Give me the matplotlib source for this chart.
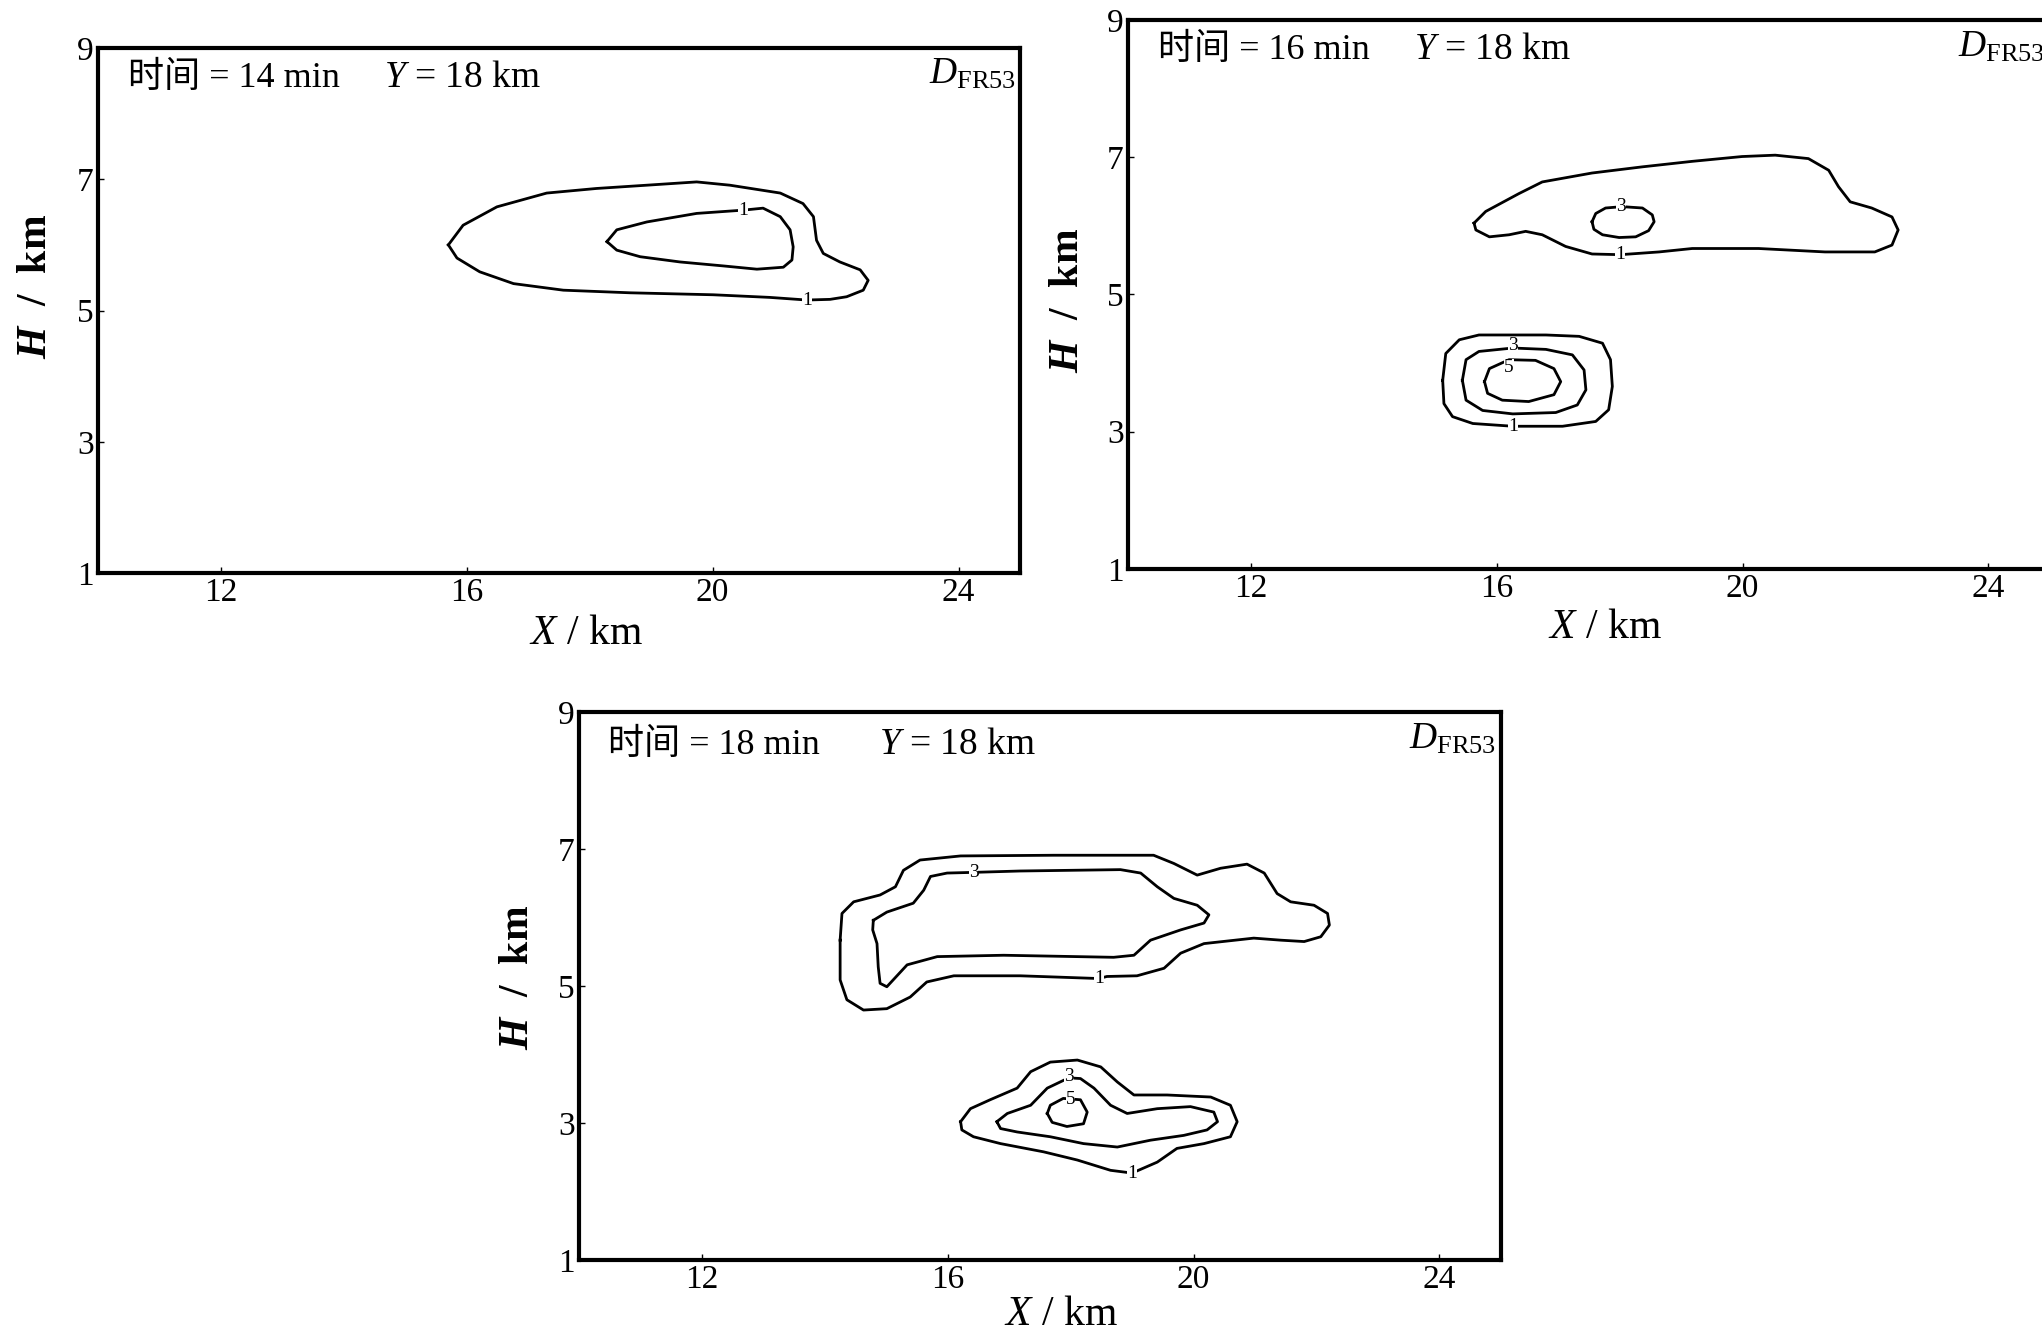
import matplotlib
matplotlib.use("Agg")
import matplotlib.pyplot as plt

plt.rcParams['font.family'] = ['Liberation Serif', 'Noto Sans CJK SC', 'DejaVu Sans']
plt.rcParams['mathtext.fontset'] = 'custom'
plt.rcParams['mathtext.rm'] = 'Liberation Serif'
plt.rcParams['mathtext.it'] = 'Liberation Serif:italic'
plt.rcParams['mathtext.bf'] = 'Liberation Serif:bold'
plt.rcParams['mathtext.bfit'] = 'Liberation Serif:italic:bold'

# --- data (X km, H km) ---
x_ticks = [12, 16, 20, 24]
h_ticks = [1, 3, 5, 7, 9]
minutes = [14, 16, 18]

# 14 min
t14_c1_x = [15.70, 15.94, 16.49, 17.30, 18.11, 18.93, 19.74, 20.28, 21.10, 21.47, 21.64, 21.69,
            21.80, 22.07, 22.40, 22.53, 22.45, 22.18, 21.91, 21.53, 20.93, 20.01, 18.66, 17.57,
            16.76, 16.21, 15.84, 15.70]
t14_c1_h = [6.00, 6.30, 6.58, 6.79, 6.86, 6.91, 6.96, 6.91, 6.79, 6.63, 6.43, 6.07,
            5.87, 5.74, 5.62, 5.46, 5.31, 5.21, 5.17, 5.16, 5.20, 5.24, 5.27, 5.31,
            5.41, 5.59, 5.80, 6.00]
t14_c3_x = [18.28, 18.44, 18.93, 19.74, 20.50, 20.82, 21.10, 21.26, 21.31, 21.29, 21.15, 20.72,
            20.17, 19.47, 18.82, 18.44, 18.28]
t14_c3_h = [6.05, 6.23, 6.35, 6.48, 6.53, 6.56, 6.43, 6.23, 5.97, 5.77, 5.66, 5.63,
            5.68, 5.74, 5.82, 5.92, 6.05]

# 16 min
t16_a1_x = [15.63, 15.82, 16.36, 16.74, 17.55, 18.37, 19.18, 19.99, 20.53, 21.07, 21.40, 21.56,
            21.75, 22.10, 22.43, 22.53, 22.43, 22.15, 21.34, 20.26, 19.18, 18.64, 18.01, 17.55,
            17.12, 16.74, 16.47, 16.20, 15.88, 15.66, 15.63]
t16_a1_h = [6.04, 6.21, 6.47, 6.64, 6.77, 6.86, 6.94, 7.01, 7.03, 6.98, 6.81, 6.57,
            6.35, 6.26, 6.13, 5.94, 5.72, 5.62, 5.62, 5.67, 5.67, 5.62, 5.58, 5.59,
            5.70, 5.87, 5.92, 5.87, 5.84, 5.94, 6.04]
t16_a3_x = [17.55, 17.61, 17.77, 18.04, 18.37, 18.53, 18.56, 18.47, 18.26, 17.99, 17.72, 17.58, 17.55]
t16_a3_h = [6.06, 6.18, 6.26, 6.28, 6.26, 6.16, 6.06, 5.93, 5.84, 5.83, 5.87, 5.95, 6.06]
t16_b1_x = [15.12, 15.17, 15.39, 15.71, 16.26, 16.80, 17.34, 17.72, 17.85, 17.88, 17.82, 17.61,
            17.07, 16.26, 15.61, 15.28, 15.14, 15.12]
t16_b1_h = [3.75, 4.14, 4.34, 4.41, 4.41, 4.41, 4.39, 4.29, 4.05, 3.66, 3.32, 3.15,
            3.08, 3.08, 3.12, 3.22, 3.41, 3.75]
t16_b3_x = [15.44, 15.50, 15.71, 16.26, 16.80, 17.23, 17.42, 17.45, 17.31, 16.96, 16.26, 15.77,
            15.50, 15.44]
t16_b3_h = [3.75, 4.05, 4.17, 4.22, 4.20, 4.12, 3.90, 3.61, 3.39, 3.28, 3.26, 3.31,
            3.46, 3.75]
t16_b5_x = [15.80, 15.88, 16.20, 16.63, 16.93, 17.04, 16.93, 16.52, 16.09, 15.85, 15.80]
t16_b5_h = [3.73, 3.92, 4.05, 4.04, 3.92, 3.73, 3.54, 3.44, 3.46, 3.56, 3.73]

# 18 min
t18_a1_x = [14.25, 14.28, 14.47, 14.90, 15.15, 15.28, 15.55, 16.21, 17.73, 19.35, 19.68, 20.06,
            20.44, 20.87, 21.15, 21.36, 21.58, 21.96, 22.18, 22.21, 22.07, 21.80, 21.42, 20.98,
            20.17, 19.79, 19.52, 19.08, 18.59, 18.46, 17.18, 16.10, 15.66, 15.39, 15.01, 14.63,
            14.36, 14.25, 14.25]
t18_a1_h = [5.67, 6.06, 6.23, 6.33, 6.45, 6.69, 6.84, 6.90, 6.91, 6.91, 6.79, 6.62,
            6.72, 6.78, 6.65, 6.35, 6.23, 6.18, 6.06, 5.89, 5.72, 5.65, 5.67, 5.70,
            5.62, 5.48, 5.26, 5.15, 5.14, 5.11, 5.15, 5.15, 5.06, 4.84, 4.67, 4.65,
            4.80, 5.09, 5.67]
t18_a3_x = [14.79, 15.01, 15.44, 15.61, 15.72, 15.99, 16.42, 17.18, 18.81, 19.14, 19.41, 19.68,
            20.06, 20.25, 20.17, 19.79, 19.30, 19.03, 18.70, 16.91, 15.83, 15.34, 15.01, 14.90,
            14.87, 14.85, 14.78, 14.79]
t18_a3_h = [5.96, 6.08, 6.21, 6.40, 6.60, 6.65, 6.66, 6.68, 6.70, 6.65, 6.45, 6.28,
            6.18, 6.04, 5.92, 5.82, 5.67, 5.45, 5.42, 5.45, 5.43, 5.31, 4.99, 5.04,
            5.28, 5.62, 5.82, 5.96]
t18_b1_x = [16.21, 16.37, 16.69, 17.13, 17.35, 17.67, 18.11, 18.49, 18.76, 19.03, 19.57, 20.28,
            20.60, 20.71, 20.60, 20.17, 19.73, 19.41, 19.00, 18.65, 18.11, 17.56, 16.86, 16.42,
            16.23, 16.21]
t18_b1_h = [3.02, 3.21, 3.34, 3.51, 3.75, 3.89, 3.92, 3.82, 3.60, 3.41, 3.41, 3.38,
            3.26, 3.02, 2.80, 2.70, 2.63, 2.43, 2.27, 2.31, 2.46, 2.58, 2.70, 2.80,
            2.90, 3.02]
t18_b3_x = [16.80, 16.97, 17.35, 17.62, 17.97, 18.16, 18.38, 18.65, 18.92, 19.41, 19.95, 20.33,
            20.39, 20.22, 19.84, 19.30, 18.76, 18.21, 17.67, 17.13, 16.86, 16.80]
t18_b3_h = [3.02, 3.14, 3.26, 3.51, 3.66, 3.65, 3.51, 3.26, 3.14, 3.21, 3.24, 3.16,
            3.02, 2.90, 2.82, 2.75, 2.65, 2.70, 2.80, 2.87, 2.92, 3.02]
t18_b5_x = [17.62, 17.67, 17.88, 18.16, 18.27, 18.21, 17.94, 17.70, 17.62]
t18_b5_h = [3.14, 3.26, 3.36, 3.34, 3.16, 2.99, 2.95, 3.01, 3.14]

# contour labels: (text, X, H)
t14_labels = [("1", 20.50, 6.53), ("1", 21.53, 5.16)]
t16_labels = [("3", 18.02, 6.28), ("1", 18.01, 5.58), ("3", 16.26, 4.25),
              ("5", 16.20, 3.94), ("1", 16.26, 3.08)]
t18_labels = [("3", 17.97, 3.68), ("5", 18.00, 3.35), ("3", 16.42, 6.66),
              ("1", 18.46, 5.11), ("1", 19.00, 2.27)]

panels = [
    dict(rect=[0.0480, 0.5695, 0.4515, 0.3944], minute=minutes[0], y_at=0.31, head_y=0.943,
         lines=[(t14_c1_x, t14_c1_h), (t14_c3_x, t14_c3_h)], labels=t14_labels,
         xlab=(586, 634), ylab=(36, 286)),
    dict(rect=[0.5524, 0.5725, 0.4515, 0.4125], minute=minutes[1], y_at=0.31, head_y=0.945,
         lines=[(t16_a1_x, t16_a1_h), (t16_a3_x, t16_a3_h), (t16_b1_x, t16_b1_h),
                (t16_b3_x, t16_b3_h), (t16_b5_x, t16_b5_h)], labels=t16_labels,
         xlab=(1605, 628), ylab=(1068, 300)),
    dict(rect=[0.2835, 0.0533, 0.4515, 0.4117], minute=minutes[2], y_at=0.325, head_y=0.94,
         lines=[(t18_a1_x, t18_a1_h), (t18_a3_x, t18_a3_h), (t18_b1_x, t18_b1_h),
                (t18_b3_x, t18_b3_h), (t18_b5_x, t18_b5_h)], labels=t18_labels,
         xlab=(1061, 1315), ylab=(518, 977)),
]

W, H = 2042, 1331
fig = plt.figure(figsize=(W / 100, H / 100), dpi=100)

for p in panels:
    ax = fig.add_axes(p['rect'])
    for xs, hs in p['lines']:
        ax.plot(xs, hs, color='black', lw=2.0, solid_joinstyle='round')
    for txt, lx, ly in p['labels']:
        ax.text(lx, ly, txt, fontsize=14, ha='center', va='center',
                bbox=dict(facecolor='white', edgecolor='none', pad=0.0))
    ax.set_xlim(10, 25)
    ax.set_ylim(1, 9)
    ax.set_xticks(x_ticks)
    ax.set_yticks(h_ticks)
    ax.tick_params(direction='in', length=4, width=1, labelsize=24, pad=3)
    for s in ax.spines.values():
        s.set_linewidth(3)
    # header: CJK part as plain text, Y part with mathtext italic
    ax.text(0.032, p['head_y'], "时间 = %d min" % p['minute'],
            transform=ax.transAxes, fontsize=26, ha='left', va='center')
    ax.text(p['y_at'], p['head_y'], "$Y$ = 18 km",
            transform=ax.transAxes, fontsize=27, ha='left', va='center')
    ax.text(0.995, 0.95, r"$D_{\mathrm{FR53}}$", transform=ax.transAxes,
            fontsize=27, ha='right', va='center')
    fig.text(p['xlab'][0] / W, 1 - p['xlab'][1] / H, "$X$ / km",
             fontsize=30, ha='center', va='center')
    fig.text(p['ylab'][0] / W, 1 - p['ylab'][1] / H, r"$\mathbfit{H}$  /  km",
             fontsize=30, fontweight='bold', rotation=90, ha='center', va='center')

fig.savefig("out.png", dpi=100, facecolor='white')
